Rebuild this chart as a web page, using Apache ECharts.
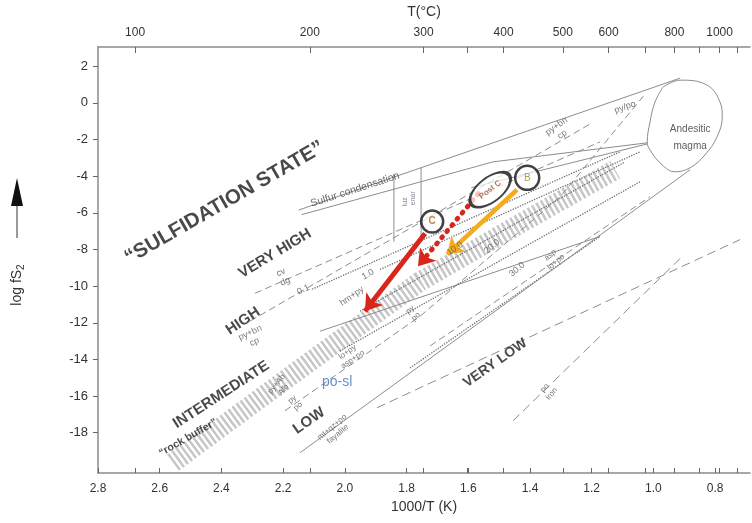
<!DOCTYPE html>
<html><head><meta charset="utf-8">
<script src="https://cdn.jsdelivr.net/npm/echarts@6/dist/echarts.min.js"></script>
<style>html,body{margin:0;padding:0;background:#fff}#c{width:752px;height:523px}</style>
</head><body><div id="c"></div>
<script>
// ---- axis ticks ----
const invTLabels = [2.8, 2.6, 2.4, 2.2, 2.0, 1.8, 1.6, 1.4, 1.2, 1.0, 0.8];
const tempLabels = [100, 200, 300, 400, 500, 600, 800, 1000];
const tempTicks = [100, 200, 300, 350, 400, 500, 600, 700, 800, 900, 1000, 1100];
const logfLabels = [2, 0, -2, -4, -6, -8, -10, -12, -14, -16, -18];

// ---- diagram lines [1000/T, log fS2] ----
const topEnvelope = [[2.15, -5.85], [0.913, 1.35]];
const sulfurLower = [[2.14, -6.1], [1.52, -3.22], [1.02, -2.18]];
const magmaTip = [[1.59, -4.63], [1.02, -2.24]];
const luzEnarL = [[1.841, -3.87], [1.841, -7.57]];
const luzEnarR = [[1.753, -3.54], [1.753, -7.46]];
const cvDg = [[2.291, -10.39], [1.173, -2.13]];
const line01 = [[2.106, -10.17], [1.108, -2.67]];
const pyBnCp = [[2.307, -11.91], [1.205, -1.15]];
const line1 = [[1.886, -9.09], [1.043, -2.67]];
const hmPyMt = [[2.080, -12.46], [1.173, -7.29]];
const line10 = [[1.951, -11.37], [1.092, -3.22]];
const rockBuffer = [[2.557, -19.63], [2.145, -14.52], [1.756, -9.74], [1.432, -6.59], [1.124, -3.65]];
const line20 = [[2.016, -13.54], [1.043, -4.30]];
const pyPo = [[2.194, -16.80], [1.756, -11.64], [1.302, -5.12], [1.027, 0.48]];
const line30 = [[1.789, -14.47], [1.173, -7.29]];
const aspLoPo = [[1.724, -13.27], [1.011, -5.12]];
const lowerEnvelope = [[2.145, -19.09], [0.881, -3.65]];
const veryLowDash = [[1.896, -16.64], [0.719, -7.46]];
const poIron = [[1.455, -17.35], [0.913, -8.49]];
const magma = [[0.969, 0.86], [0.913, 1.24], [0.826, 0.97], [0.784, 0.04], [0.777, -0.77], [0.794, -1.86],
  [0.833, -2.84], [0.881, -3.54], [0.930, -3.76], [0.972, -3.38], [1.011, -2.57], [1.020, -2.13],
  [1.011, -1.04], [0.995, 0.04], [0.969, 0.86]];

// ---- paths (arrows) ----
const pathC = [[1.740, -7.13], [1.935, -11.37]];
const pathPostC = [[1.568, -4.96], [1.763, -8.92]];
const pathB = [[1.442, -4.74], [1.669, -8.27]];
const stageC = [1.717, -6.48];
const stagePostC = [1.529, -4.74];
const stageB = [1.409, -4.09];

// ---- text labels [text, x, y, rotate, size, weight, color] ----
const labels = [
  ['\u201CSULFIDATION STATE\u201D', 2.39, -5.45, 30, 20.5, 'bold', '#1a1a1a'],
  ['VERY HIGH', 2.226, -8.22, 31, 15, 'bold', '#1a1a1a'],
  ['HIGH', 2.33, -11.91, 34, 15, 'bold', '#1a1a1a'],
  ['INTERMEDIATE', 2.401, -15.93, 33, 15, 'bold', '#1a1a1a'],
  ['\u201Crock buffer\u201D', 2.508, -18.27, 30, 10.5, 'bold', '#1a1a1a'],
  ['LOW', 2.116, -17.35, 35, 15, 'bold', '#1a1a1a'],
  ['VERY LOW', 1.513, -14.2, 35, 14, 'bold', '#1a1a1a'],
  ['po-sl', 2.025, -15.23, 0, 14, 'normal', '#3c74bd'],
  ['Sulfur condensation', 1.967, -4.74, 18, 10.5, 'normal', '#444'],
  ['Andesitic', 0.881, -1.42, 0, 10, 'normal', '#333'],
  ['magma', 0.881, -2.35, 0, 10, 'normal', '#333'],
  ['luz', 1.805, -5.4, 90, 7, 'normal', '#667'],
  ['enar', 1.778, -5.2, 90, 7, 'normal', '#667'],
  ['cv\ndg', 2.20, -9.5, 25, 9, 'normal', '#555'],
  ['0.1', 2.135, -10.2, 25, 9, 'normal', '#555'],
  ['1.0', 1.925, -9.36, 30, 9, 'normal', '#555'],
  ['hm+py', 1.977, -10.55, 35, 9, 'normal', '#555'],
  ['py+bn\ncp', 2.30, -12.8, 25, 9, 'normal', '#555'],
  ['py+bn\ncp', 1.305, -1.5, 35, 9, 'normal', '#555'],
  ['py/po', 1.092, -0.23, 20, 9, 'normal', '#555'],
  ['10.0', 1.643, -7.95, 35, 9, 'normal', '#555'],
  ['20.0', 1.523, -7.84, 40, 9, 'normal', '#555'],
  ['30.0', 1.442, -9.09, 40, 9, 'normal', '#555'],
  ['asp\nlo+po', 1.325, -8.5, 40, 8, 'normal', '#555'],
  ['py\npo', 1.779, -11.48, 40, 8, 'normal', '#555'],
  ['lo+py\nasp+po', 1.983, -13.8, 35, 8, 'normal', '#555'],
  ['py+Ab\nAlb', 2.21, -15.5, 50, 8, 'normal', '#555'],
  ['py\npo', 2.161, -16.37, 40, 8, 'normal', '#555'],
  ['mt+qz+po\nfayalite', 2.032, -17.89, 40, 8, 'normal', '#555'],
  ['po\niron', 1.341, -15.72, 50, 8, 'normal', '#555']
];

const FONT = "'Liberation Sans', Arial, Helvetica, sans-serif";
const GRAY = '#8c8c8c';
function lineS(data, type, opts) {
  const isDot = type === 'dotted';
  return Object.assign({
    type: 'line', data: data, symbol: 'none', silent: true, animation: false,
    lineStyle: { color: isDot ? '#6f6f6f' : GRAY, width: isDot ? 1.3 : 1, type: type }
  }, opts || {});
}
const tempToInv = t => 1000 / (t + 273.15);

const chart = echarts.init(document.getElementById('c'), null, { renderer: 'canvas' });
chart.setOption({
  animation: false,
  textStyle: { fontFamily: FONT },
  grid: { left: 98, right: 2, top: 44, bottom: 50 },
  xAxis: [{
    type: 'value', position: 'bottom', inverse: true, min: 0.687, max: 2.8,
    name: '1000/T (K)', nameLocation: 'middle', nameGap: 27,
    nameTextStyle: { fontSize: 14, color: '#333', fontFamily: FONT },
    axisLine: { show: true, onZero: false, lineStyle: { color: '#8a8a8a', width: 1.5 } },
    axisTick: { show: true, inside: true, length: 5, lineStyle: { color: '#666' },
      customValues: invTLabels.concat(tempTicks.map(tempToInv)) },
    axisLabel: { customValues: invTLabels, formatter: v => v.toFixed(1), fontSize: 12, color: '#333', margin: 10 },
    splitLine: { show: false }
  }, {
    type: 'value', position: 'top', inverse: true, min: 0.687, max: 2.8,
    name: 'T(\u00B0C)', nameLocation: 'middle', nameGap: 28,
    nameTextStyle: { fontSize: 14, color: '#333', fontFamily: FONT },
    axisLine: { show: true, onZero: false, lineStyle: { color: '#8a8a8a', width: 1.5 } },
    axisTick: { show: true, inside: true, length: 6, lineStyle: { color: '#666' },
      customValues: tempTicks.map(tempToInv) },
    axisLabel: { customValues: tempLabels.map(tempToInv), formatter: v => String(Math.round(1000 / v - 273.15)),
      fontSize: 12, color: '#333', margin: 8 },
    splitLine: { show: false }
  }],
  yAxis: {
    type: 'value', min: -20.2, max: 3.05,
    axisLine: { show: true, onZero: false, lineStyle: { color: '#8a8a8a', width: 1.5 } },
    axisTick: { show: true, length: 5, lineStyle: { color: '#666' }, customValues: logfLabels },
    axisLabel: { customValues: logfLabels, fontSize: 13, color: '#333', margin: 10 },
    splitLine: { show: false }
  },
  graphic: [
    { type: 'line', shape: { x1: 17, y1: 238, x2: 17, y2: 200 }, style: { stroke: '#777', lineWidth: 1.5 } },
    { type: 'polygon', shape: { points: [[11, 206], [23, 206], [17, 178]] }, style: { fill: '#111' } },
    { type: 'text', x: 17, y: 285, rotation: Math.PI / 2,
      style: { text: '{a|log fS}{b|2}', align: 'center', verticalAlign: 'middle',
        rich: { a: { fontSize: 14, fill: '#333', fontFamily: FONT }, b: { fontSize: 10, fill: '#333', fontFamily: FONT, padding: [8, 0, 0, 0] } } } }
  ],
  series: [
    lineS(rockBuffer, [2.5, 2.5], { lineStyle: { color: '#c6c6c6', width: 20, type: [2.5, 2.5], cap: 'butt' }, z: 1 }),
    lineS(topEnvelope, 'solid'),
    lineS(sulfurLower, 'solid'),
    lineS(magmaTip, 'solid'),
    lineS(luzEnarL, 'solid'),
    lineS(luzEnarR, 'solid'),
    lineS(cvDg, [7, 4]),
    lineS(line01, 'dotted'),
    lineS(pyBnCp, [7, 4]),
    lineS(line1, 'dotted'),
    lineS(hmPyMt, 'solid'),
    lineS(line10, 'dotted'),
    lineS(line20, 'dotted'),
    lineS(pyPo, [7, 4]),
    lineS(line30, 'dotted'),
    lineS(aspLoPo, [7, 4]),
    lineS(lowerEnvelope, 'solid'),
    lineS(veryLowDash, [9, 5]),
    lineS(poIron, [9, 5]),
    lineS(magma, 'solid', { smooth: 0.4 }),
    {
      type: 'lines', coordinateSystem: 'cartesian2d', silent: true, animation: false, z: 5,
      symbol: ['none', 'arrow'], symbolSize: 16,
      data: [
        { coords: pathC, lineStyle: { color: '#d9261c', width: 5, type: 'solid', opacity: 1 } },
        { coords: pathPostC, lineStyle: { color: '#d9261c', width: 5, type: [1, 7], cap: 'round', opacity: 1 } },
        { coords: pathB, lineStyle: { color: '#f5ac1c', width: 4.5, type: 'solid', opacity: 1 } }
      ]
    },
    {
      type: 'scatter', silent: true, animation: false, z: 6,
      itemStyle: { color: 'rgba(255,255,255,0.9)', borderColor: '#111', borderWidth: 2.5 },
      data: [
        { value: stageC, symbolSize: 22, label: { show: true, position: 'inside', formatter: 'C', color: '#b5651d', fontSize: 10, fontWeight: 'bold' } },
        { value: stagePostC, symbolSize: [48, 24], symbolRotate: 38, label: { show: true, position: 'inside', formatter: 'Post C', rotate: 38, color: '#a0522d', fontSize: 8, fontWeight: 'bold' } },
        { value: stageB, symbolSize: 24, label: { show: true, position: 'inside', formatter: 'B', color: '#9a8a30', fontSize: 10 } }
      ]
    },
    {
      type: 'scatter', silent: true, animation: false, z: 7, symbolSize: 1,
      itemStyle: { color: 'rgba(0,0,0,0)' },
      data: labels.map(l => ({
        value: [l[1], l[2]],
        label: { show: true, position: 'inside', formatter: l[0], rotate: l[3], fontSize: l[4], fontWeight: l[5],
          color: l[6], fontFamily: FONT, lineHeight: l[4] + 1, align: 'center', verticalAlign: 'middle' }
      }))
    }
  ]
});
</script></body></html>
